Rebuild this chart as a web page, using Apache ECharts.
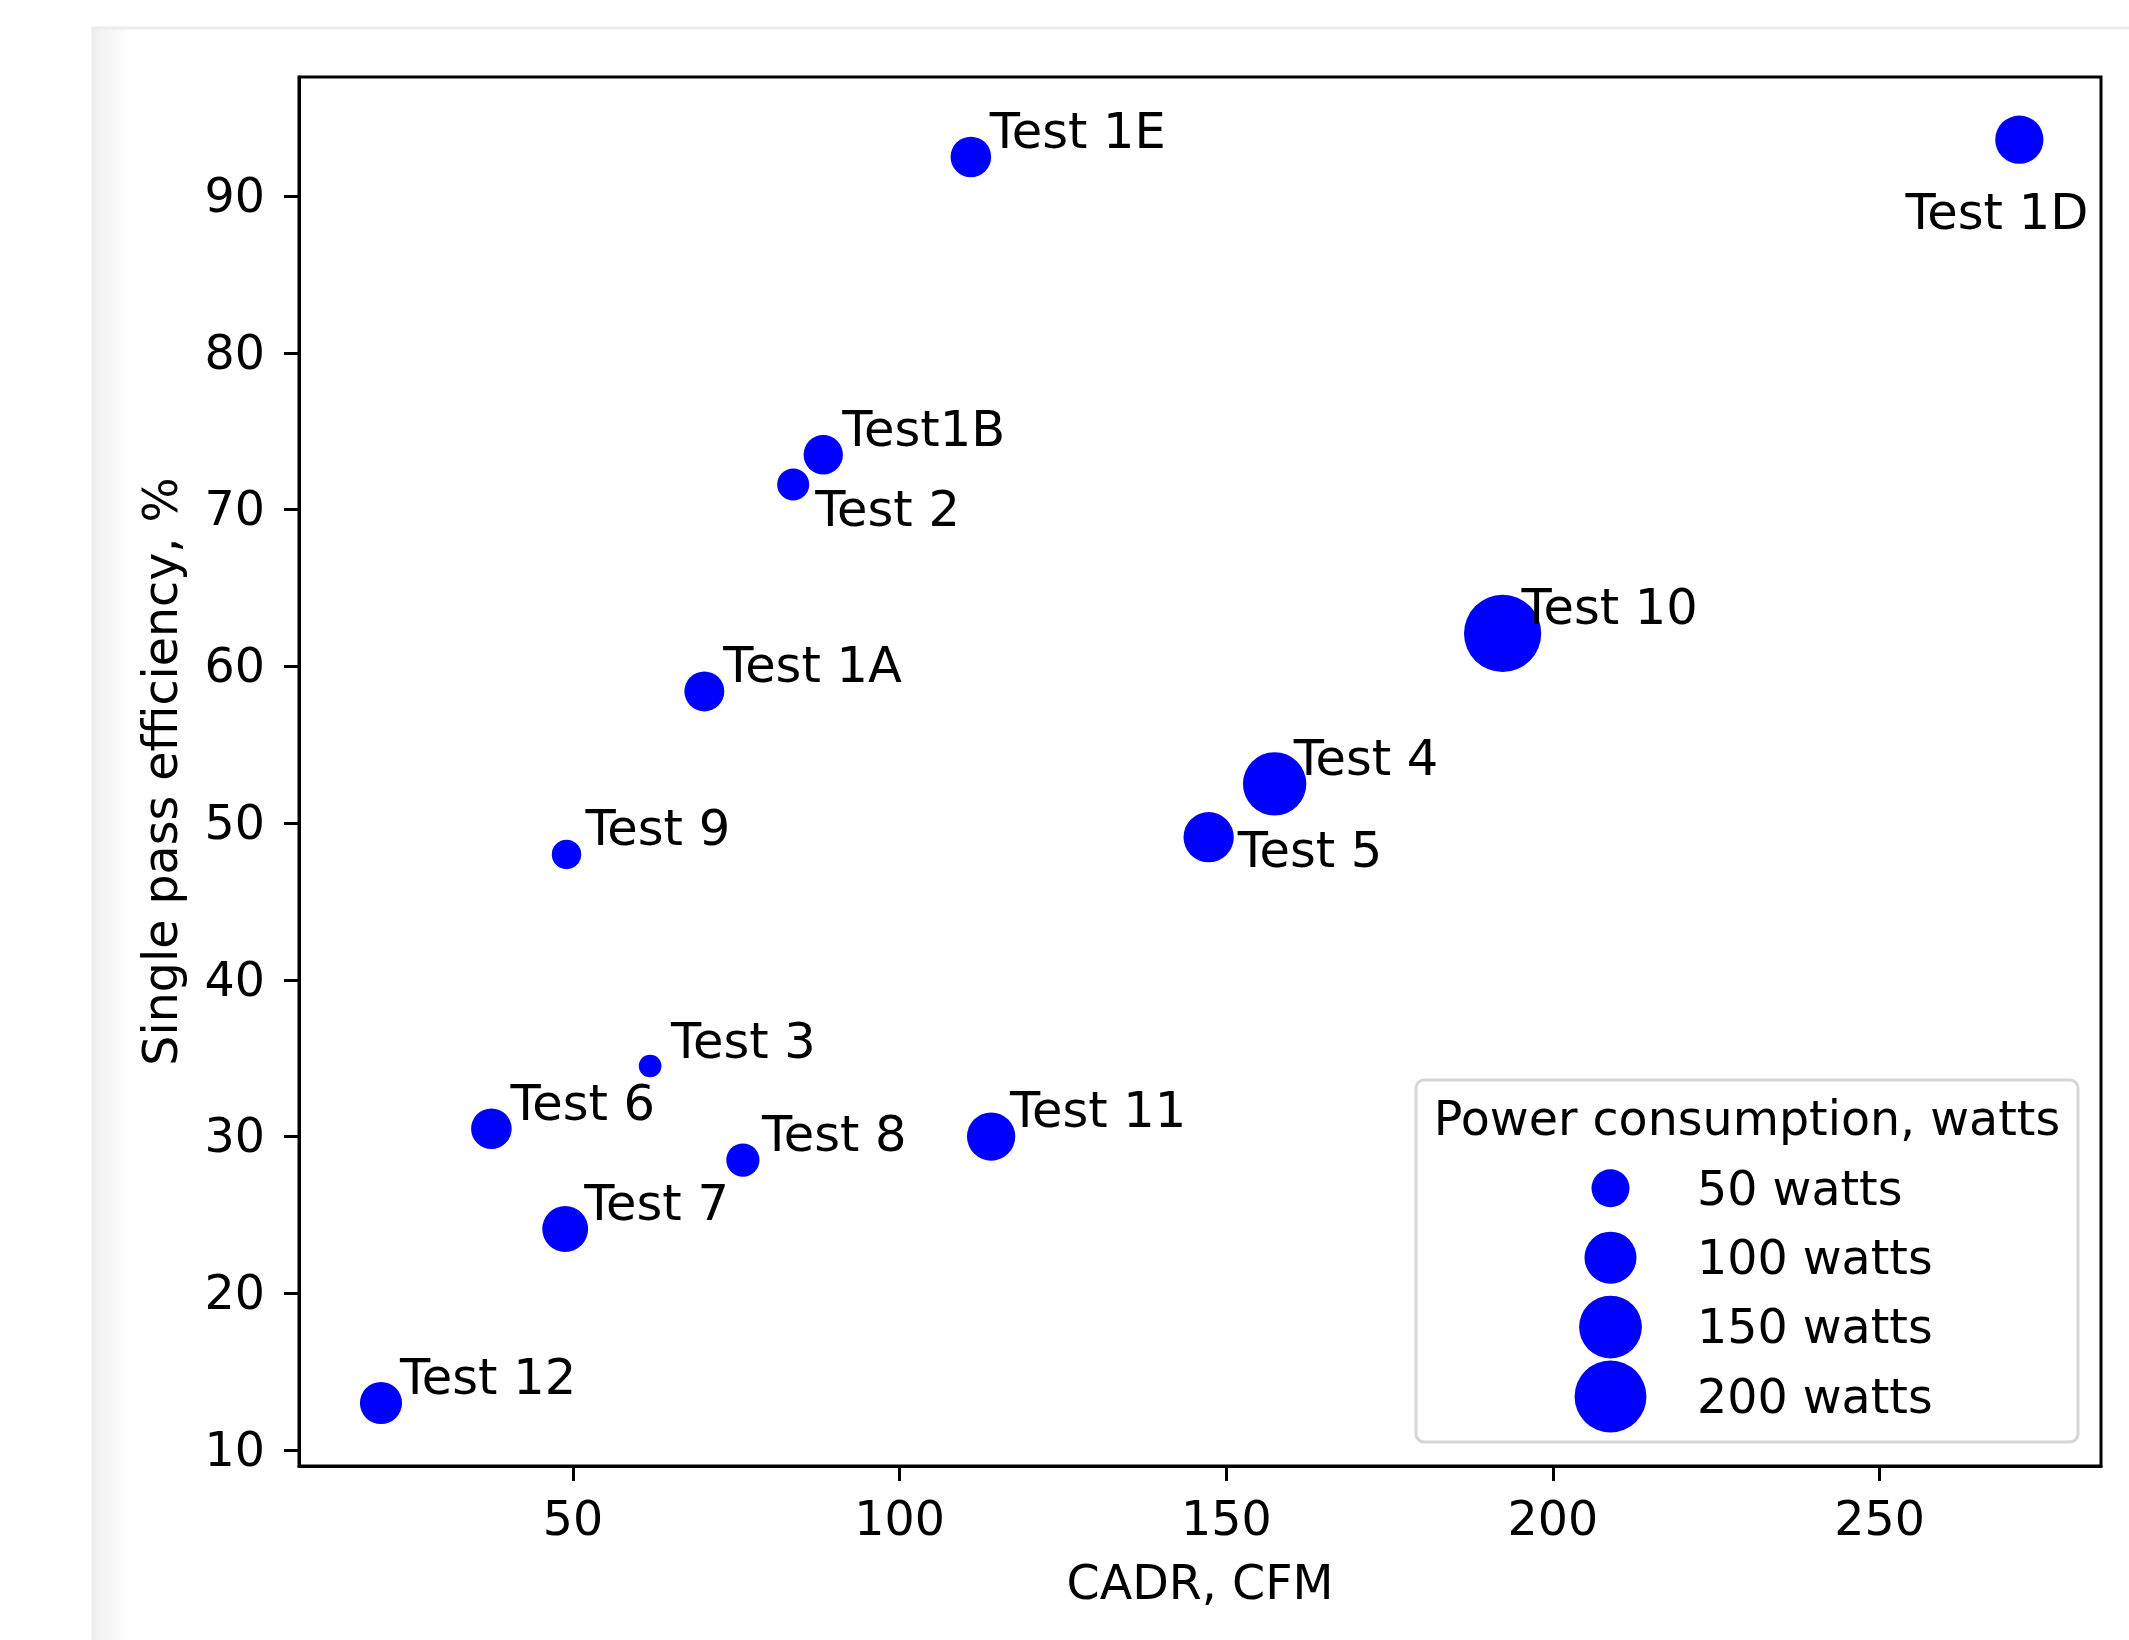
<!DOCTYPE html>
<html>
<head>
<meta charset="utf-8">
<script src="https://cdn.jsdelivr.net/npm/echarts@6/dist/echarts.min.js"></script>
<style>
html,body{margin:0;padding:0;background:#fff;}
#chart{width:2129px;height:1640px;}
</style>
</head>
<body>
<div id="chart"></div>
<script>
// ---- data ----
const testNames = ['Test 1A','Test1B','Test 1D','Test 1E','Test 2','Test 3','Test 4','Test 5','Test 6','Test 7','Test 8','Test 9','Test 10','Test 11','Test 12'];
const cadr = [70.1, 88.3, 271.4, 110.9, 83.7, 61.8, 157.4, 147.3, 37.5, 48.8, 76.0, 49.0, 192.3, 114.0, 20.6];
const efficiency = [58.4, 73.5, 93.6, 92.5, 71.6, 34.5, 52.5, 49.1, 30.5, 24.1, 28.5, 48.0, 62.1, 30.0, 13.0];
const power = [56, 54, 85, 58, 34, 15, 153, 93, 58, 76, 37, 28, 233, 85, 63];
const xTicks = [50, 100, 150, 200, 250];
const yTicks = [10, 20, 30, 40, 50, 60, 70, 80, 90];
const legendWatts = [50, 100, 150, 200];
const legendLabels = legendWatts.map(w => w + ' watts');

// ---- styling helpers ----
const FONT = 'DejaVu Sans';
const FS = 47.5;
const FS_ANN = 49.5;
function markerSize(w) { return 4.787 * Math.sqrt(w) + 4.15; }
// label placement (pixels relative to marker centre): [dx, dy, align]
const defaultPlace = [19, -22, 'left'];
const specialPlace = {
  'Test 2': [22, 29, 'left'],
  'Test 5': [29, 17, 'left'],
  'Test 3': [21, -21, 'left'],
  'Test 1D': [69, 76, 'right']
};

const mainData = testNames.map((n, i) => {
  const p = specialPlace[n] || defaultPlace;
  return {
    name: n,
    value: [cadr[i], efficiency[i], power[i]],
    label: { offset: [p[0], p[1]], align: p[2] }
  };
});

const chart = echarts.init(document.getElementById('chart'), null, { renderer: 'canvas' });
const axisTextStyle = { color: '#000', fontFamily: FONT, fontSize: FS };

const option = {
  animation: false,
  backgroundColor: '#fff',
  graphic: [
    { type: 'rect', z: -10, silent: true,
      shape: { x: 93, y: 28, width: 2100, height: 1700 },
      style: { fill: new echarts.graphic.LinearGradient(0, 0, 1, 0, [
        { offset: 0, color: '#efefef' }, { offset: 0.018, color: '#ffffff' }, { offset: 1, color: '#ffffff' }]),
        stroke: '#ececec', lineWidth: 3 } },
    { type: 'rect', z: 1, silent: true,
      shape: { x: 1416, y: 1080, width: 662, height: 362, r: 8 },
      style: { fill: 'rgba(255,255,255,0.85)', stroke: '#d6d6d6', lineWidth: 3 } },
    { type: 'text', z: 3, silent: true,
      style: { x: 1747, y: 1123, text: 'Power consumption, watts', fill: '#000',
        font: FS + 'px "' + FONT + '"', textAlign: 'center', textVerticalAlign: 'middle' } }
  ],
  grid: [
    { left: 299, right: 28, top: 77, bottom: 174, show: true, borderColor: '#000', borderWidth: 3, backgroundColor: 'transparent' },
    { left: 1560, right: 468, top: 1153.5, bottom: 208.8 }
  ],
  xAxis: [
    { type: 'value', gridIndex: 0, min: 8.05, max: 283.9,
      name: 'CADR, CFM', nameLocation: 'middle', nameGap: 97,
      nameTextStyle: axisTextStyle,
      axisLine: { show: true, lineStyle: { color: '#000', width: 3 } },
      axisTick: { show: true, length: 15, lineStyle: { color: '#000', width: 3 }, customValues: xTicks },
      axisLabel: Object.assign({ margin: 33, customValues: xTicks }, axisTextStyle),
      splitLine: { show: false } },
    { type: 'value', gridIndex: 1, min: -1, max: 1, show: false }
  ],
  yAxis: [
    { type: 'value', gridIndex: 0, min: 8.98, max: 97.6,
      name: 'Single pass efficiency, %', nameLocation: 'middle', nameGap: 110,
      nameTextStyle: axisTextStyle,
      axisLine: { show: true, lineStyle: { color: '#000', width: 3 } },
      axisTick: { show: true, length: 15, lineStyle: { color: '#000', width: 3 }, customValues: yTicks },
      axisLabel: Object.assign({ margin: 34, verticalAlign: 'top', lineHeight: 7, customValues: yTicks }, axisTextStyle),
      splitLine: { show: false } },
    { type: 'category', gridIndex: 1, data: legendLabels, inverse: true, position: 'right', z: 6,
      axisLine: { show: false }, axisTick: { show: false }, splitLine: { show: false },
      axisLabel: Object.assign({ margin: 36, align: 'left', verticalAlign: 'top', lineHeight: 8 }, axisTextStyle) }
  ],
  series: [
    { type: 'scatter', xAxisIndex: 0, yAxisIndex: 0, z: 2,
      data: mainData,
      symbol: 'circle',
      symbolSize: v => markerSize(v[2]),
      itemStyle: { color: '#0000ff', opacity: 1 },
      label: { show: true, position: 'inside', formatter: p => p.name,
        color: '#000', fontFamily: FONT, fontSize: FS_ANN, verticalAlign: 'middle' },
      emphasis: { disabled: true } },
    { type: 'scatter', xAxisIndex: 1, yAxisIndex: 1, z: 4,
      data: legendWatts.map((w, i) => [0, i, w]),
      symbol: 'circle',
      symbolSize: v => markerSize(v[2]),
      itemStyle: { color: '#0000ff', opacity: 1 },
      emphasis: { disabled: true } }
  ]
};
chart.setOption(option);
</script>
</body>
</html>
